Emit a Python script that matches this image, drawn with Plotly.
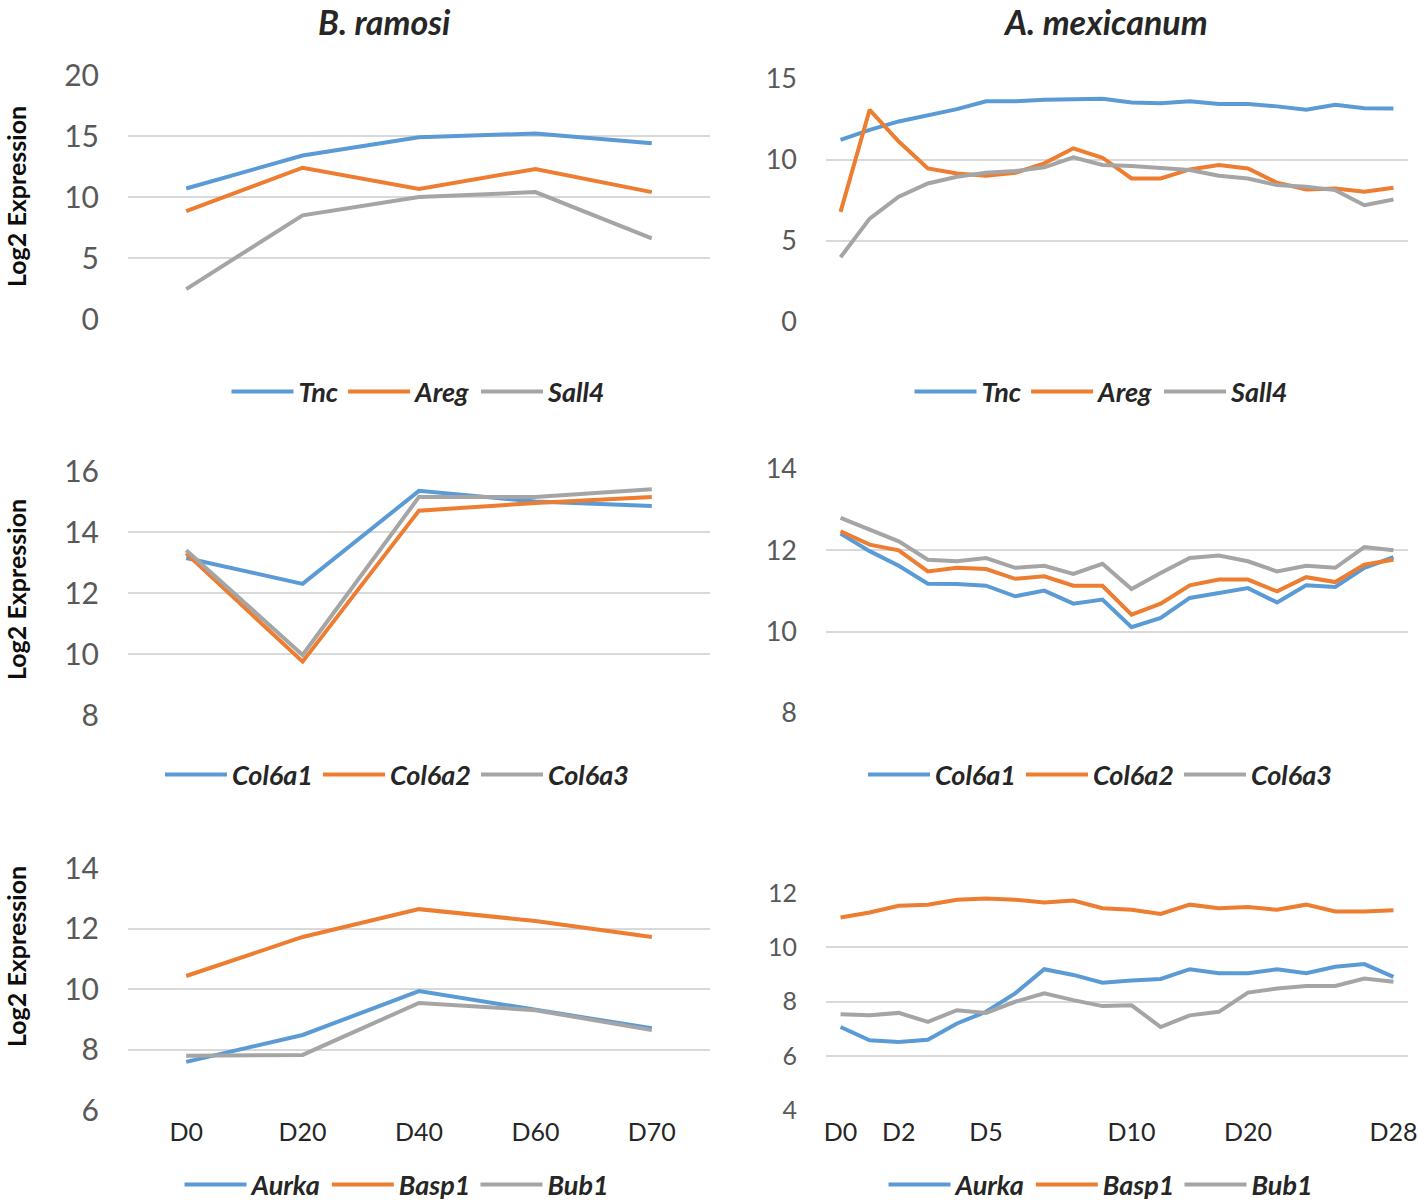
import plotly.graph_objects as go

# ---------------- data ----------------
ram_days = ["D0", "D20", "D40", "D60", "D70"]
mex_labels = ["D0", "", "D2", "", "", "D5", "", "", "", "", "D10", "", "", "", "D20", "", "", "", "", "D28"]

ram_tnc = [10.7, 13.4, 14.9, 15.2, 14.4]
ram_areg = [8.85, 12.4, 10.65, 12.3, 10.4]
ram_sall4 = [2.45, 8.5, 10.0, 10.4, 6.6]

ram_col6a1 = [13.15, 12.3, 15.35, 15.0, 14.85]
ram_col6a2 = [13.3, 9.75, 14.7, 14.95, 15.15]
ram_col6a3 = [13.4, 9.97, 15.15, 15.15, 15.4]

ram_aurka = [7.59, 8.48, 9.93, 9.3, 8.7]
ram_basp1 = [10.43, 11.72, 12.64, 12.25, 11.72]
ram_bub1 = [7.79, 7.82, 9.54, 9.3, 8.64]

mex_tnc = [11.24, 11.86, 12.38, 12.73, 13.14, 13.62, 13.62, 13.72, 13.78, 13.78,
           13.55, 13.51, 13.62, 13.45, 13.45, 13.31, 13.10, 13.41, 13.20, 13.18]
mex_areg = [6.8, 13.1, 11.14, 9.48, 9.17, 9.03, 9.21, 9.79, 10.72, 10.14,
            8.86, 8.86, 9.42, 9.69, 9.48, 8.6, 8.18, 8.24, 8.04, 8.29]
mex_sall4 = [4.0, 6.38, 7.73, 8.55, 8.97, 9.21, 9.32, 9.55, 10.17, 9.69,
             9.63, 9.48, 9.38, 9.03, 8.86, 8.45, 8.35, 8.14, 7.21, 7.56]

mex_col6a1 = [12.41, 11.98, 11.62, 11.18, 11.17, 11.13, 10.87, 11.01, 10.69, 10.79,
              10.11, 10.34, 10.83, 10.95, 11.07, 10.72, 11.14, 11.10, 11.57, 11.83]
mex_col6a2 = [12.47, 12.14, 12.0, 11.48, 11.57, 11.54, 11.30, 11.36, 11.13, 11.13,
              10.42, 10.69, 11.14, 11.28, 11.28, 10.99, 11.34, 11.22, 11.65, 11.77]
mex_col6a3 = [12.80, 12.51, 12.22, 11.77, 11.73, 11.81, 11.57, 11.62, 11.42, 11.67,
              11.05, 11.44, 11.81, 11.87, 11.73, 11.48, 11.62, 11.57, 12.08, 12.0]

mex_aurka = [7.06, 6.57, 6.51, 6.59, 7.19, 7.62, 8.30, 9.19, 8.98, 8.69,
             8.77, 8.83, 9.19, 9.04, 9.04, 9.19, 9.04, 9.28, 9.38, 8.91]
mex_basp1 = [11.10, 11.28, 11.53, 11.57, 11.75, 11.80, 11.75, 11.65, 11.72, 11.44,
             11.38, 11.23, 11.57, 11.44, 11.48, 11.38, 11.57, 11.32, 11.32, 11.36]
mex_bub1 = [7.53, 7.49, 7.58, 7.25, 7.68, 7.58, 7.99, 8.30, 8.05, 7.83,
            7.86, 7.06, 7.49, 7.62, 8.33, 8.48, 8.57, 8.57, 8.85, 8.73]

col_titles = ["B. ramosi", "A. mexicanum"]
y_title = "Log2 Expression"

# ---------------- styling ----------------
W, H = 1418, 1202
BLUE, ORANGE, GRAY = "#5B9BD5", "#ED7D31", "#A5A5A5"
FONT = "Lato"
GRID = "#D9D9D9"
TICKC = "#595959"

def px_x(v):
    return v / W

def px_y(v):
    return 1 - v / H

mex_x = list(range(len(mex_labels)))
mex_tickvals = [i for i, l in enumerate(mex_labels) if l]
mex_ticktext = [l for l in mex_labels if l]

panels = [
    dict(x=ram_days, ys=[ram_tnc, ram_areg, ram_sall4], names=["Tnc", "Areg", "Sall4"],
         yr=[0, 20], dt=5, xd=(128, 710), yd=(75, 319), lx=419, ly=392, ts=30, left=True, bottom=False),
    dict(x=mex_x, ys=[mex_tnc, mex_areg, mex_sall4], names=["Tnc", "Areg", "Sall4"],
         yr=[0, 15], dt=5, xd=(826, 1408), yd=(79, 322), lx=1102, ly=392, ts=27, left=False, bottom=False),
    dict(x=ram_days, ys=[ram_col6a1, ram_col6a2, ram_col6a3], names=["Col6a1", "Col6a2", "Col6a3"],
         yr=[8, 16], dt=2, xd=(128, 710), yd=(471, 715), lx=397, ly=775, ts=30, left=True, bottom=False),
    dict(x=mex_x, ys=[mex_col6a1, mex_col6a2, mex_col6a3], names=["Col6a1", "Col6a2", "Col6a3"],
         yr=[8, 14], dt=2, xd=(826, 1408), yd=(469, 713), lx=1100, ly=775, ts=27, left=False, bottom=False),
    dict(x=ram_days, ys=[ram_aurka, ram_basp1, ram_bub1], names=["Aurka", "Basp1", "Bub1"],
         yr=[6, 14], dt=2, xd=(128, 710), yd=(868, 1110), lx=397, ly=1185, ts=30, left=True, bottom=True),
    dict(x=mex_x, ys=[mex_aurka, mex_basp1, mex_bub1], names=["Aurka", "Basp1", "Bub1"],
         yr=[4, 12], dt=2, xd=(826, 1408), yd=(893, 1110), lx=1101, ly=1185, ts=25, left=False, bottom=True),
]

colors = [BLUE, ORANGE, GRAY]
fig = go.Figure()
layout = {}
for k, p in enumerate(panels, start=1):
    xa = "x" if k == 1 else f"x{k}"
    ya = "y" if k == 1 else f"y{k}"
    lg = "legend" if k == 1 else f"legend{k}"
    for y, nm, c in zip(p["ys"], p["names"], colors):
        fig.add_trace(go.Scatter(x=p["x"], y=y, name=nm, mode="lines",
                                 line=dict(color=c, width=4),
                                 xaxis=xa, yaxis=ya, legend=lg))
    xkey = "xaxis" if k == 1 else f"xaxis{k}"
    ykey = "yaxis" if k == 1 else f"yaxis{k}"
    xdict = dict(domain=[px_x(p["xd"][0]), px_x(p["xd"][1])], anchor=ya,
                 showgrid=False, zeroline=False, showline=False, ticks="",
                 showticklabels=p["bottom"], fixedrange=True, automargin=False,
                 ticklabeloverflow="allow", ticklabelstandoff=5,
                 tickfont=dict(family=FONT, size=25, color="#262626"))
    if p["left"]:
        xdict.update(type="category", range=[-0.5, len(ram_days) - 0.5])
    else:
        xdict.update(range=[-0.5, len(mex_labels) - 0.5], tickmode="array",
                     tickvals=mex_tickvals, ticktext=mex_ticktext)
    layout[xkey] = xdict
    layout[ykey] = dict(domain=[px_y(p["yd"][1]), px_y(p["yd"][0])], anchor=xa,
                        range=p["yr"], dtick=p["dt"], tick0=0, automargin=False,
                        showgrid=True, gridcolor=GRID, gridwidth=1.5,
                        zeroline=False, showline=False, ticks="",
                        ticklabelstandoff=28, fixedrange=True,
                        tickfont=dict(family=FONT, size=p["ts"], color=TICKC))
    layout[lg] = dict(orientation="h", x=px_x(p["lx"]), y=px_y(p["ly"]),
                      xanchor="center", yanchor="middle", bgcolor="rgba(0,0,0,0)",
                      font=dict(family=FONT, size=27, color="#262626",
                                weight="bold", style="italic"),
                      itemwidth=62, tracegroupgap=0)

annotations = [
    dict(text=col_titles[0], x=px_x(384), y=px_y(22), xref="paper", yref="paper",
         showarrow=False, xanchor="center", yanchor="middle",
         font=dict(family=FONT, size=34, color="#262626", weight="bold", style="italic")),
    dict(text=col_titles[1], x=px_x(1105), y=px_y(22), xref="paper", yref="paper",
         showarrow=False, xanchor="center", yanchor="middle",
         font=dict(family=FONT, size=34, color="#262626", weight="bold", style="italic")),
]
for yc in (197, 590, 957):
    annotations.append(dict(text=y_title, x=px_x(16), y=px_y(yc), xref="paper", yref="paper",
                            showarrow=False, textangle=-90, xanchor="center", yanchor="middle",
                            font=dict(family=FONT, size=25, color="#0D0D0D", weight="bold")))

fig.update_layout(width=W, height=H,
                  margin=dict(l=0, r=0, t=0, b=0, pad=0, autoexpand=False),
                  paper_bgcolor="white", plot_bgcolor="white",
                  annotations=annotations, **layout)
fig.write_html("out.html", config={"displayModeBar": False},
               post_script="document.body.style.margin='0';document.body.style.padding='0';")
